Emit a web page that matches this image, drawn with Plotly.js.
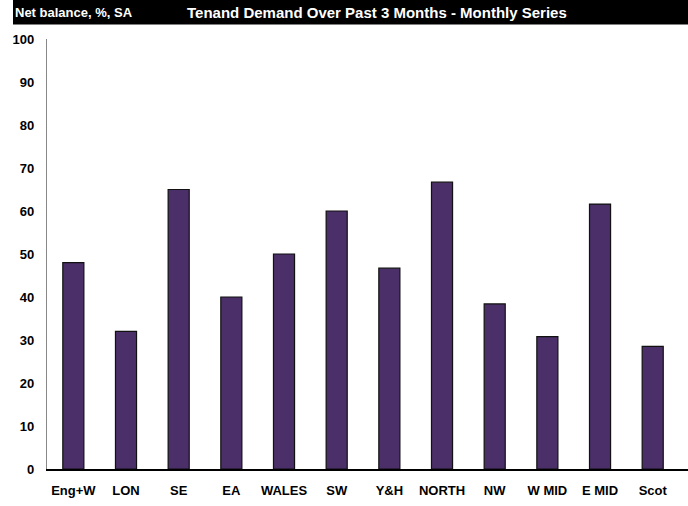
<!DOCTYPE html>
<html><head><meta charset="utf-8">
<script src="https://cdn.plot.ly/plotly-3.0.1.min.js"></script>
<style>html,body{margin:0;padding:0;background:#fff}#chart{width:688px;height:506px}</style>
</head><body><div id="chart"></div>
<script>
const regions = ["Eng+W","LON","SE","EA","WALES","SW","Y&H","NORTH","NW","W MID","E MID","Scot"];
const netBalance = [48, 32, 65, 40, 50, 60, 46.7, 66.7, 38.4, 30.8, 61.6, 28.5];
const yTicks = [0,10,20,30,40,50,60,70,80,90,100];
const headerLeft = "Net balance, %, SA";
const chartTitle = "Tenand Demand Over Past 3 Months - Monthly Series";

const W = 688, H = 506;
const M = {l:47, r:0, t:39, b:37, pad:0};
const pw = W - M.l - M.r, ph = H - M.t - M.b;
const STEP = 52.67;
const FONT = "'Liberation Sans', Arial, sans-serif";
const px2x = p => (p - M.l) / pw;
const py2y = p => 1 - (p - M.t) / ph;

const trace = {
  type: 'bar', x: regions, y: netBalance,
  marker: {color: '#4b2f69', line: {color: '#111', width: 1.2}},
  hoverinfo: 'x+y'
};
const layout = {
  width: W, height: H, margin: M, showlegend: false,
  paper_bgcolor: '#fff', plot_bgcolor: '#fff',
  bargap: 0.6,
  font: {family: FONT, size: 13, color: '#000'},
  xaxis: {type: 'category', range: [-0.5, -0.5 + pw / STEP], showgrid: false, zeroline: false,
    showline: true, linecolor: '#000', linewidth: 1.5, ticks: '',
    tickfont: {family: FONT, size: 13, color: '#000', weight: 'bold'}, ticklabelstandoff: 9},
  yaxis: {range: [0, 100], tickvals: yTicks, ticktext: yTicks.map(String), showgrid: false,
    zeroline: false, showline: true, linecolor: '#888', linewidth: 1.2, ticks: '',
    tickfont: {family: FONT, size: 13, color: '#000', weight: 'bold'}, ticklabelstandoff: 9},
  shapes: [{type: 'rect', xref: 'paper', yref: 'paper', layer: 'above',
    x0: px2x(13), x1: px2x(W), y0: py2y(24.5), y1: py2y(0),
    fillcolor: '#000', line: {width: 0}}],
  annotations: [
    {xref: 'paper', yref: 'paper', x: px2x(13), y: py2y(12.5), xanchor: 'left', yanchor: 'middle',
     text: '<b>' + headerLeft + '</b>', showarrow: false, font: {family: FONT, size: 13, color: '#fff'}},
    {xref: 'paper', yref: 'paper', x: px2x(185), y: py2y(12.5), xanchor: 'left', yanchor: 'middle',
     text: '<b>' + chartTitle + '</b>', showarrow: false, font: {family: FONT, size: 15, color: '#fff'}}
  ]
};
Plotly.newPlot('chart', [trace], layout, {displayModeBar: false, staticPlot: true});
</script></body></html>
